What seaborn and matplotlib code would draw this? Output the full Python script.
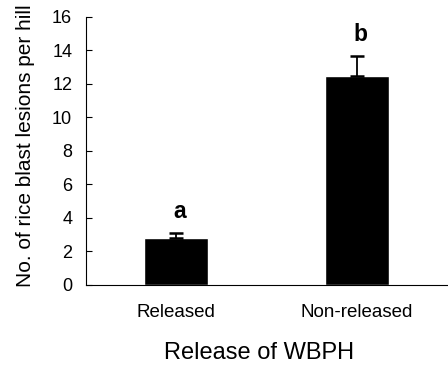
import matplotlib
matplotlib.use("Agg")
import matplotlib.pyplot as plt
import seaborn as sns
import pandas as pd

categories = ["Released", "Non-released"]
means = [2.8, 12.45]
errors = [0.3, 1.2]
letters = ["a", "b"]

sns.set_style("white")
plt.rcParams['font.family'] = ['Liberation Sans', 'DejaVu Sans']
plt.rcParams['text.color'] = 'black'
plt.rcParams['axes.labelcolor'] = 'black'
plt.rcParams['xtick.color'] = 'black'
plt.rcParams['ytick.color'] = 'black'

df = pd.DataFrame({"release": categories, "lesions": means})

fig = plt.figure(figsize=(4.48, 3.69), dpi=100)
ax = fig.add_axes([0.192, 0.228, 0.806, 0.726])
sns.barplot(data=df, x="release", y="lesions", color="black", width=0.355,
            saturation=1, ax=ax, errorbar=None)
ax.errorbar(range(len(categories)), means, yerr=[[0]*len(errors), errors],
            fmt="none", ecolor="black", elinewidth=1.3, capsize=5, capthick=1.8)
for i, (m, e, l) in enumerate(zip(means, errors, letters)):
    ax.text(i + 0.02, m + e + 0.92, l, ha="center", va="baseline",
            fontsize=16.5, fontweight="bold")

ax.set_xlim(-0.5, 1.5)
ax.set_ylim(0, 16)
ax.set_yticks(range(0, 17, 2))
ax.set_xticks([0.5], minor=True)
ax.tick_params(axis="x", which="major", length=0, labelsize=13.5, pad=14)
ax.tick_params(axis="x", which="minor", direction="in", length=5, width=0.8)
ax.tick_params(axis="y", direction="in", length=4, width=0.8, labelsize=13, pad=10, left=True)
for s in ["top", "right"]:
    ax.spines[s].set_visible(False)
for s in ["left", "bottom"]:
    ax.spines[s].set_linewidth(0.8)
    ax.spines[s].set_color("black")
ax.set_xlabel("Release of WBPH", fontsize=17)
ax.xaxis.set_label_coords(0.478, -0.212)
ax.set_ylabel("No. of rice blast lesions per hill", fontsize=15)
ax.yaxis.set_label_coords(-0.14, 0.52)

fig.savefig("out.png", dpi=100)
